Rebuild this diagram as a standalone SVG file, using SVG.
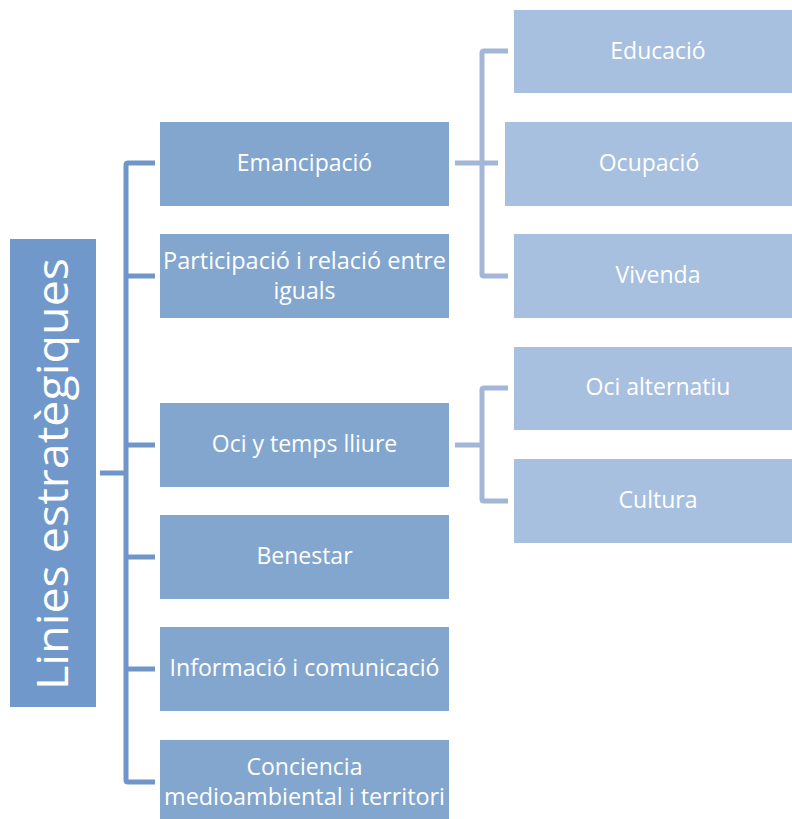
<svg xmlns="http://www.w3.org/2000/svg" width="792" height="819" viewBox="0 0 792 819">
<style>
.root{fill:#7098CA}
.l1{fill:#83A6CF}
.l2{fill:#A7C0DF}
.t{font-family:"Open Sans","Liberation Sans",sans-serif;font-size:23px;fill:#FFFFFF;text-anchor:middle}
.rt{font-family:"Open Sans","Liberation Sans",sans-serif;font-size:44px;fill:#FFFFFF;text-anchor:middle}
.c1{fill:none;stroke:#7095C8;stroke-width:5;stroke-linejoin:round}
.c2{fill:none;stroke:#A2B6D8;stroke-width:5;stroke-linejoin:round}
</style>
<rect width="792" height="819" fill="#FFFFFF"/>
<g id="connectors">
<path class="c1" d="M100,473 H126 M155,163 H128 Q126,163 126,165 V780 Q126,782 128,782 H155 M126,276 H155 M126,445 H155 M126,557 H155 M126,669 H155"/>
<path class="c2" d="M455,163 H498 M508,51 H484 Q482,51 482,53 V274 Q482,276 484,276 H508"/>
<path class="c2" d="M455,445 H482 M508,388 H484 Q482,388 482,390 V499 Q482,501 484,501 H508"/>
</g>
<g id="root">
<rect class="root" x="10" y="239" width="86" height="468"/>
<text class="rt" transform="translate(68,474) rotate(-90)" textLength="432" lengthAdjust="spacingAndGlyphs">Linies estratègiques</text>
</g>
<g id="emancipacio"><rect class="l1" x="160" y="122" width="289" height="84"/><text class="t" x="304.5" y="171">Emancipació</text></g>
<g id="participacio"><rect class="l1" x="160" y="234" width="289" height="84"/><text class="t" x="304.5" y="269" textLength="283" lengthAdjust="spacingAndGlyphs">Participació i relació entre</text><text class="t" x="304.5" y="299">iguals</text></g>
<g id="oci"><rect class="l1" x="160" y="403" width="289" height="84"/><text class="t" x="304.5" y="452">Oci y temps lliure</text></g>
<g id="benestar"><rect class="l1" x="160" y="515" width="289" height="84"/><text class="t" x="304.5" y="564">Benestar</text></g>
<g id="informacio"><rect class="l1" x="160" y="627" width="289" height="84"/><text class="t" x="304.5" y="676" textLength="270" lengthAdjust="spacingAndGlyphs">Informació i comunicació</text></g>
<g id="conciencia"><rect class="l1" x="160" y="740" width="289" height="84"/><text class="t" x="304.5" y="775">Conciencia</text><text class="t" x="304.5" y="805" textLength="281" lengthAdjust="spacingAndGlyphs">medioambiental i territori</text></g>
<g id="educacio"><rect class="l2" x="514" y="10" width="278" height="83"/><text class="t" x="658" y="59">Educació</text></g>
<g id="ocupacio"><rect class="l2" x="505" y="122" width="287" height="84"/><text class="t" x="649" y="171">Ocupació</text></g>
<g id="vivenda"><rect class="l2" x="514" y="234" width="278" height="84"/><text class="t" x="658" y="283">Vivenda</text></g>
<g id="oci-alternatiu"><rect class="l2" x="514" y="347" width="278" height="83"/><text class="t" x="658" y="395">Oci alternatiu</text></g>
<g id="cultura"><rect class="l2" x="514" y="459" width="278" height="84"/><text class="t" x="658" y="508">Cultura</text></g>
</svg>
